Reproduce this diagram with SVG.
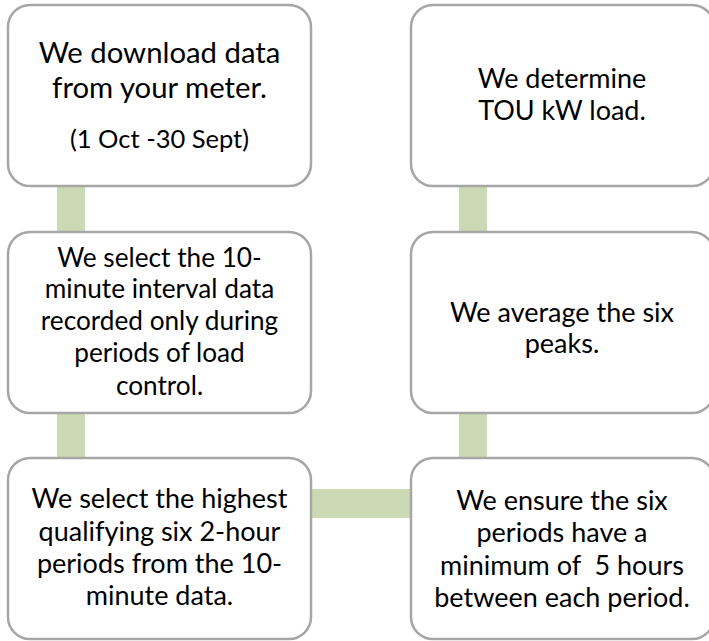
<svg xmlns="http://www.w3.org/2000/svg" width="709" height="641" viewBox="0 0 709 641">
<style>
.box{fill:#ffffff;stroke:#a6a6a6;stroke-width:2.5}
.bar{fill:#cbdab5}
text{font-family:Lato,"Liberation Sans",sans-serif;font-size:27px;fill:#000;text-anchor:middle}
.big{font-size:29.3px}
.mid{font-size:26.2px}
.small{font-size:25.5px}
</style>
<rect width="709" height="641" fill="#fff"/>
<g id="connectors">
<rect class="bar" x="57" y="186" width="28" height="46"/>
<rect class="bar" x="57" y="413" width="28" height="45"/>
<rect class="bar" x="311" y="489" width="100" height="29"/>
<rect class="bar" x="459" y="413" width="28" height="45"/>
<rect class="bar" x="459" y="186" width="28" height="46"/>
</g>
<g id="n1">
<rect class="box" x="8" y="5" width="303" height="181" rx="22"/>
<text class="big" x="159.5" y="63">We download data</text>
<text class="big" x="159.5" y="98">from your meter.</text>
<text class="small" x="159.5" y="148">(1 Oct -30 Sept)</text>
</g>
<g id="n2">
<rect class="box" x="8" y="232" width="303" height="181" rx="22"/>
<text class="mid" x="159.5" y="267">We select the 10-</text>
<text class="mid" x="159.5" y="298">minute interval data</text>
<text class="mid" x="159.5" y="330">recorded only during</text>
<text class="mid" x="159.5" y="362">periods of load</text>
<text class="mid" x="159.5" y="395">control.</text>
</g>
<g id="n3">
<rect class="box" x="8" y="458" width="303" height="181" rx="22"/>
<text x="159.5" y="508">We select the highest</text>
<text x="159.5" y="541">qualifying six 2-hour</text>
<text x="159.5" y="573">periods from the 10-</text>
<text x="159.5" y="605">minute data.</text>
</g>
<g id="n4">
<rect class="box" x="411" y="5" width="303" height="181" rx="22"/>
<text x="562" y="88">We determine</text>
<text x="562" y="120">TOU kW load.</text>
</g>
<g id="n5">
<rect class="box" x="411" y="232" width="303" height="181" rx="22"/>
<text x="562" y="322">We average the six</text>
<text x="562" y="353">peaks.</text>
</g>
<g id="n6">
<rect class="box" x="411" y="458" width="303" height="181" rx="22"/>
<text x="562" y="510">We ensure the six</text>
<text x="562" y="542">periods have a</text>
<text x="562" y="575" xml:space="preserve">minimum of  5 hours</text>
<text x="562" y="607">between each period.</text>
</g>
</svg>
